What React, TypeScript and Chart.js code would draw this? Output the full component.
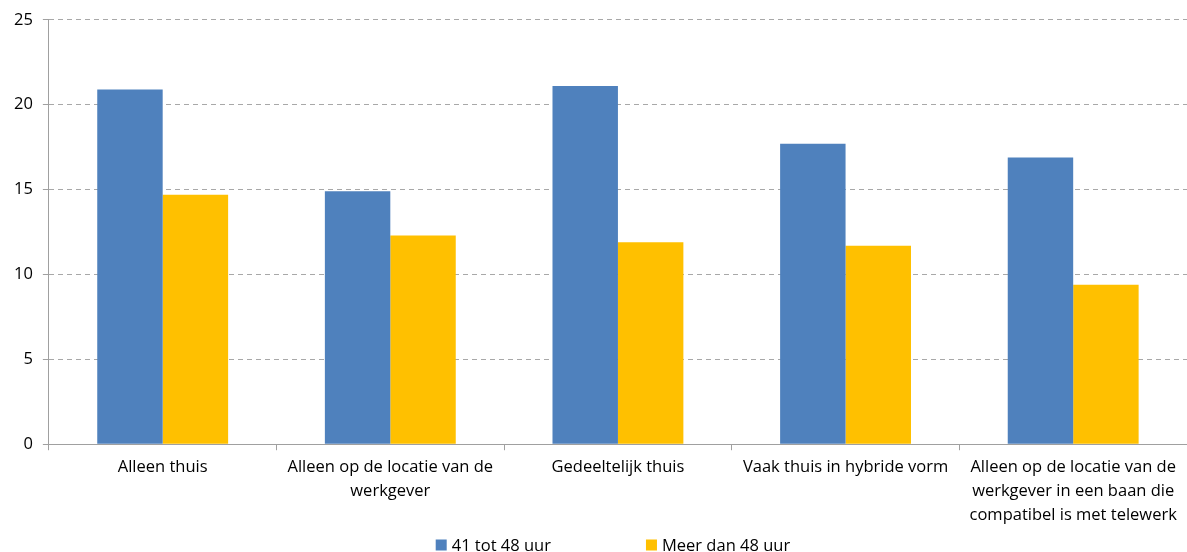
import React, { useEffect, useRef } from "react";
import { Chart, registerables } from "chart.js";

Chart.register(...registerables);

const categories: string[][] = [
  ["Alleen thuis"],
  ["Alleen op de locatie van de", "werkgever"],
  ["Gedeeltelijk thuis"],
  ["Vaak thuis in hybride vorm"],
  ["Alleen op de locatie van de", "werkgever in een baan die", "compatibel is met telewerk"],
];
const series41to48: number[] = [20.9, 14.9, 21.1, 17.7, 16.9];
const seriesOver48: number[] = [14.7, 12.3, 11.9, 11.7, 9.4];
const seriesNames: string[] = ["41 tot 48 uur", "Meer dan 48 uur"];
const yTicks: number[] = [0, 5, 10, 15, 20, 25];

const FONT = "'Open Sans', Lato, sans-serif";

const customLegend = {
  id: "customLegend",
  afterDraw(chart: any) {
    const ctx = chart.ctx;
    ctx.save();
    ctx.font = `16.5px ${FONT}`;
    ctx.textBaseline = "middle";
    const y = 545;
    const gap = 95;
    const box = 11;
    const items = chart.data.datasets.map((d: any) => ({
      label: d.label,
      color: d.backgroundColor,
      w: box + 5 + ctx.measureText(d.label).width,
    }));
    const total = items.reduce((s: number, it: any) => s + it.w, 0) + gap * (items.length - 1);
    const ca = chart.chartArea;
    let x = (ca.left + ca.right) / 2 - total / 2 - 5;
    for (const it of items) {
      ctx.fillStyle = it.color;
      ctx.fillRect(x, y - box / 2, box, box);
      ctx.fillStyle = "#000";
      ctx.textAlign = "left";
      ctx.fillText(it.label, x + box + 5, y + 1);
      x += it.w + gap;
    }
    ctx.restore();
  },
};

export default function App() {
  const ref = useRef<HTMLCanvasElement>(null);
  useEffect(() => {
    if (!ref.current) return;
    const chart = new Chart(ref.current, {
      type: "bar",
      data: {
        labels: categories,
        datasets: [
          { label: seriesNames[0], data: series41to48, backgroundColor: "#4F81BD", barPercentage: 1, categoryPercentage: 0.575 },
          { label: seriesNames[1], data: seriesOver48, backgroundColor: "#FFC000", barPercentage: 1, categoryPercentage: 0.575 },
        ],
      },
      options: {
        animation: false,
        responsive: false,
        maintainAspectRatio: false,
        layout: { padding: { top: 11, left: 4, right: 0, bottom: 20 } },
        plugins: {
          legend: { display: false },
          tooltip: { enabled: false },
        },
        scales: {
          x: {
            offset: true,
            grid: { offset: true, drawOnChartArea: false, drawTicks: true, tickLength: 6, color: "#A0A0A0" },
            border: { color: "#A0A0A0", width: 1 },
            ticks: {
              color: "#000",
              font: { family: FONT, size: 16.5, lineHeight: 1.45 },
              maxRotation: 0,
              autoSkip: false,
              padding: 5,
            },
          },
          y: {
            min: 0,
            max: 25,
            afterBuildTicks: (axis: any) => {
              axis.ticks = yTicks.map((v) => ({ value: v }));
            },
            grid: { color: "#A8A8A8", tickLength: 6, drawTicks: true, tickColor: "#A0A0A0" },
            border: { color: "#A0A0A0", width: 1, dash: [5, 4] },
            ticks: {
              color: "#000",
              font: { family: FONT, size: 16.5 },
              padding: 10,
            },
          },
        },
      },
      plugins: [customLegend],
    } as any);
    return () => chart.destroy();
  }, []);
  return (
    <div style={{ position: "fixed", left: 0, top: 0, width: 1187, height: 552, background: "#fff" }}>
      <canvas ref={ref} width={1187} height={552} style={{ width: 1187, height: 552 }} />
    </div>
  );
}
